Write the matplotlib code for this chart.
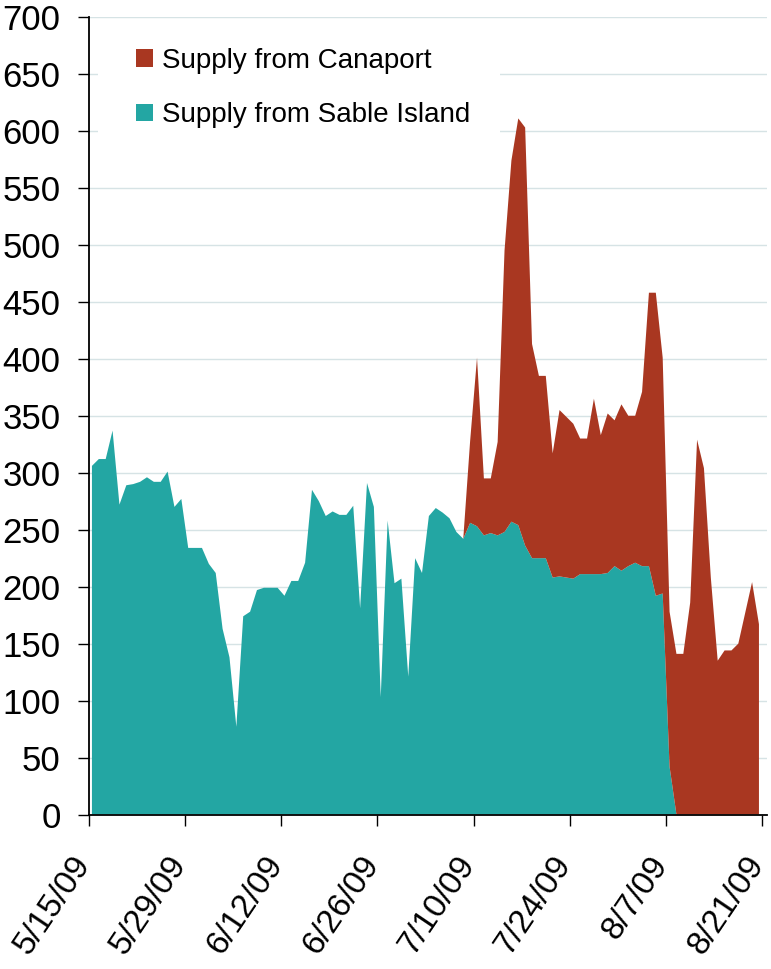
import matplotlib
matplotlib.use('Agg')
import matplotlib.pyplot as plt
from matplotlib.patches import Rectangle
from matplotlib.transforms import ScaledTranslation
import pandas as pd

# daily supply, 5/15/09 .. 8/20/09
sable = [306, 312, 312, 337, 272, 289, 290, 292, 296, 292,
         292, 301, 270, 277, 234, 234, 234, 220, 212, 163,
         138, 77, 174, 178, 197, 199, 199, 199, 192, 205,
         205, 221, 285, 275, 262, 266, 263, 263, 271, 181,
         291, 270, 103, 258, 203, 207, 121, 225, 212, 262,
         269, 265, 260, 248, 242, 256, 253, 245, 247, 245,
         248, 257, 254, 236, 225, 225, 225, 208, 209, 208,
         207, 211, 211, 211, 211, 212, 218, 214, 218, 221,
         218, 218, 192, 194, 42, 0, 0, 0, 0, 0,
         0, 0, 0, 0, 0, 0, 0, 0]
canaport = [0] * 54 + [0, 72, 148, 50, 48, 82, 247, 317, 357, 367,
                       188, 160, 160, 109, 146, 141, 136, 119, 119, 154,
                       122, 140, 128, 146, 132, 129, 153, 240, 266, 207,
                       136, 141, 141, 186, 329, 304, 208, 135, 144, 144,
                       150, 177, 204, 167]
tick_labels = ['5/15/09', '5/29/09', '6/12/09', '6/26/09',
               '7/10/09', '7/24/09', '8/7/09', '8/21/09']

TEAL = '#23A6A3'
RED = '#A93721'

plt.rcParams['font.family'] = ['Liberation Sans', 'DejaVu Sans']

day0 = pd.Timestamp('2009-05-15')
dates = pd.date_range(day0, periods=len(sable)) + pd.Timedelta(hours=12)
tick_dates = pd.date_range(day0, periods=len(tick_labels), freq='14D')

fig = plt.figure(figsize=(7.71, 9.69), dpi=100)
ax = fig.add_axes([88.5 / 771, 1 - 814.5 / 969, 678.5 / 771, 797.5 / 969])

polys = ax.stackplot(dates, sable, canaport, colors=[TEAL, RED], lw=0)

ax.set_ylim(0, 700)
ax.set_yticks(range(0, 701, 50))
ax.set_xlim(day0, day0 + pd.Timedelta(days=98.67))
ax.set_xticks(tick_dates)

ax.set_axisbelow(True)
ax.yaxis.grid(True, color='#D6E3E5', lw=1)
for s in ['top', 'right']:
    ax.spines[s].set_visible(False)
for s in ['left', 'bottom']:
    ax.spines[s].set_linewidth(1.3)
ax.tick_params(axis='y', labelsize=25, length=8, width=1, pad=12)
ax.tick_params(axis='x', labelsize=24, length=8, width=1, pad=22)

# labels set after tick_params, which would reset their transforms
ax.set_xticklabels(tick_labels, rotation=56, ha='right', va='center',
                   rotation_mode='anchor')
shift = ScaledTranslation(-5 / 100, -3 / 100, fig.dpi_scale_trans)
for lbl in ax.get_xticklabels():
    lbl.set_transform(lbl.get_transform() + shift)

# white box behind the legend hides the gridlines there
ax.add_patch(Rectangle((98 / 771, 1 - 140 / 969), 402 / 771, 116 / 969,
                       transform=fig.transFigure, facecolor='white',
                       edgecolor='none', zorder=0.8, clip_on=False))

leg = ax.legend([polys[1], polys[0]],
                ['Supply from Canaport', 'Supply from Sable Island'],
                loc='upper left', bbox_to_anchor=(136 / 771, 1 - 48 / 969),
                bbox_transform=fig.transFigure, frameon=False, fontsize=20,
                borderpad=0, borderaxespad=0, handlelength=0.61,
                handleheight=0.61, handletextpad=0.31, labelspacing=1.02)

fig.savefig('out.png', dpi=100)
